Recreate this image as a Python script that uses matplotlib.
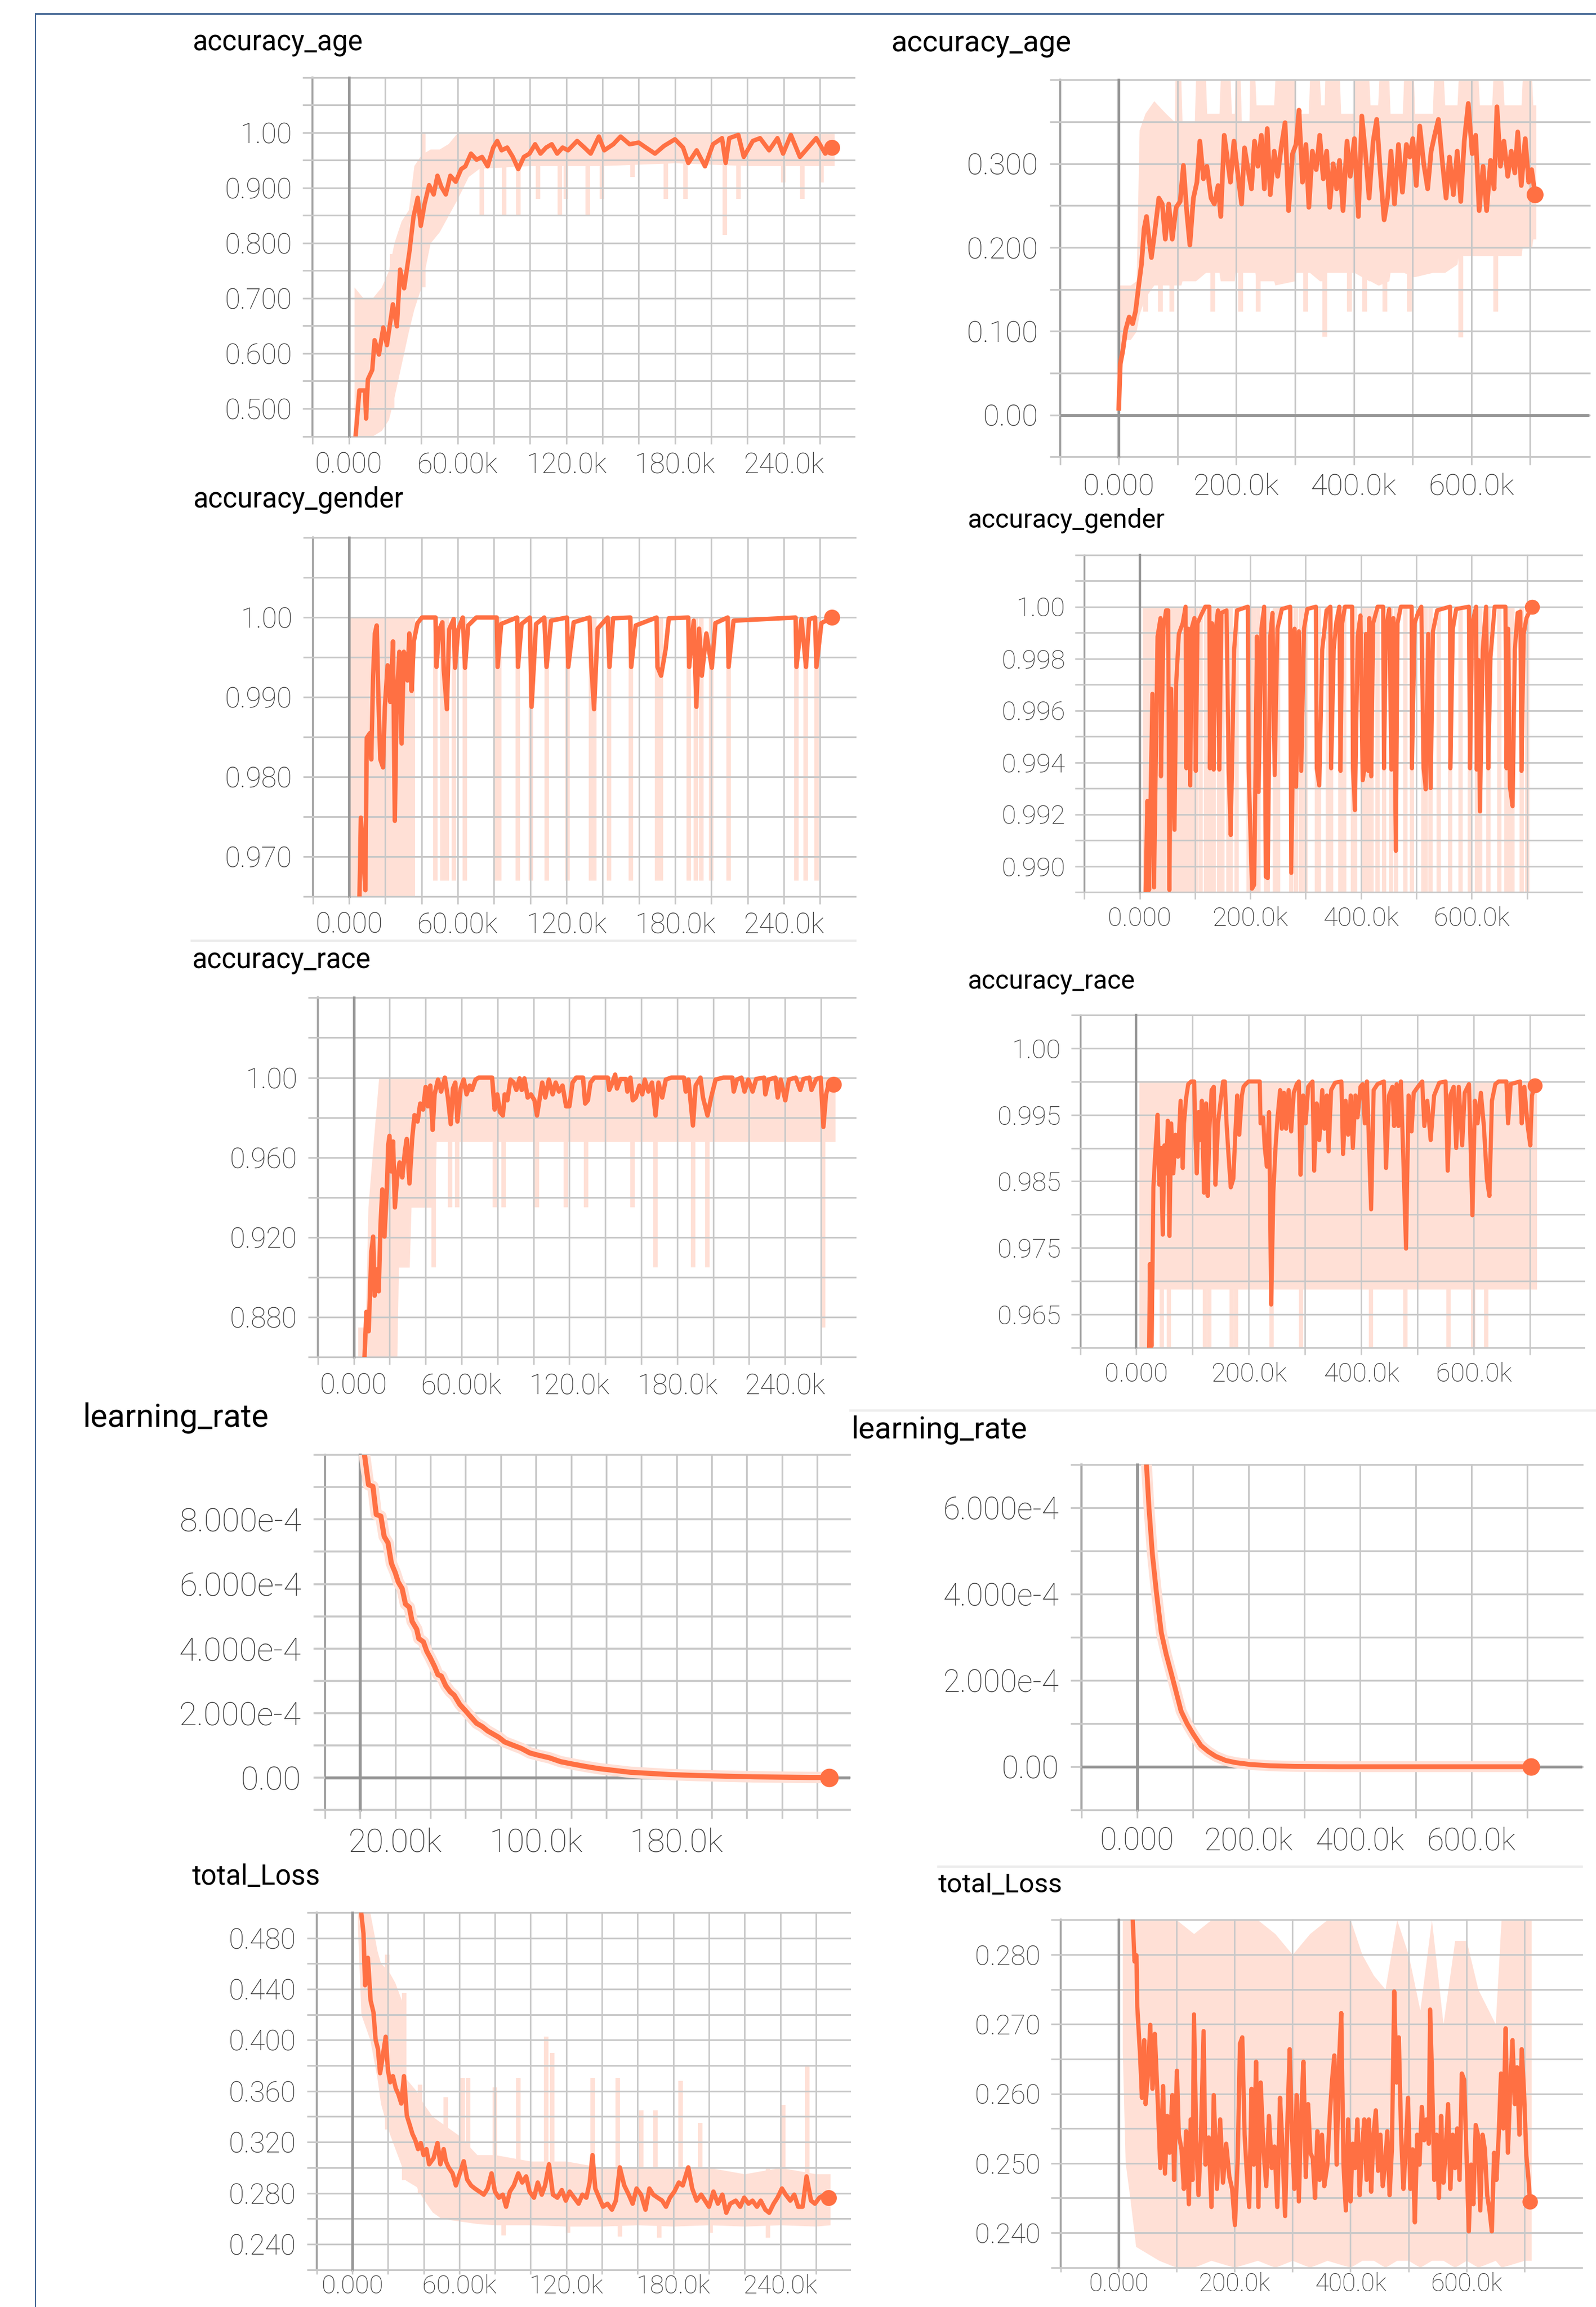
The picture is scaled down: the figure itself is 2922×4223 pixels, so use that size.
import matplotlib
matplotlib.use("Agg")
import matplotlib.pyplot as plt
from matplotlib.lines import Line2D

plt.rcParams['font.family'] = ['Roboto', 'DejaVu Sans']

W, H, DPI = 2922, 4223, 100

LINE_C = "#ff7043"
RAW_C = "#ffe0d6"
GRID_C = "#c8c8c8"
AXIS_C = "#a2a2a2"
ZERO_C = "#969696"
TICK_C = "#3a3a3a"
FRAME_C = "#3d6190"
SEP_C = "#ececec"

# ---------------- data (x in thousands of steps) ----------------
AGE_L = [(3.7,0.45),(5.8,0.533),(8.9,0.533),(9.5,0.482),(10.5,0.553),(12.9,0.57),(14.2,0.624),(16.6,0.598),(19,0.647),(21,0.615),(24.3,0.689),(26.5,0.649),(28.3,0.752),(30.5,0.718),(33.5,0.786),(35.7,0.848),(38,0.882),(39.7,0.831),(41.8,0.871),(44.3,0.905),(46.8,0.888),(48.9,0.922),(51,0.902),(53.5,0.888),(56,0.922),(59,0.911),(62,0.934),(64.3,0.939),(67.4,0.962),(70.5,0.951),(73.5,0.956),(76.6,0.939),(79.7,0.973),(81.9,0.985),(84.3,0.968),(87.4,0.973),(90.5,0.956),(93.5,0.934),(96.6,0.956),(99.7,0.962),(102.8,0.979),(105.8,0.962),(108.9,0.973),(112,0.979),(115,0.962),(118,0.973),(121,0.968),(126,0.985),(130,0.973),(133.5,0.962),(138,0.993),(141,0.968),(146,0.979),(150,0.993),(155,0.979),(160,0.982),(164,0.973),(169,0.962),(174,0.976),(180,0.988),(184.5,0.973),(187.4,0.945),(192,0.968),(196.6,0.939),(201,0.979),(206,0.99),(208,0.945),(210,0.99),(215,0.996),(218,0.956),(223,0.985),(227,0.99),(232,0.968),(236.6,0.99),(239.7,0.962),(244,0.996),(249,0.956),(253.5,0.973),(258,0.99),(263,0.962),(266.5,0.973)]
AGE_L_BAND = [(3,0.45,0.72),(8,0.45,0.70),(13,0.45,0.70),(18,0.46,0.72),(22,0.48,0.75),(25,0.52,0.80),(29,0.58,0.84),(33,0.64,0.86),(36,0.68,0.94),(40,0.72,0.96),(45,0.80,0.97),(50,0.82,0.97),(55,0.85,0.98),(60,0.88,1.0),(66,0.92,1.0),(72,0.935,1.0),(100,0.94,1.0),(140,0.94,1.0),(180,0.945,1.0),(220,0.94,1.0),(268,0.94,1.0)]
AGE_L_SPIKES = [(24,0.50,0.78),(41,0.72,1.0),(73.5,0.848,1.0),(85.8,0.848,1.0),(93.5,0.848,1.0),(104.3,0.88,1.0),(116.6,0.85,1.0),(119.7,0.88,1.0),(132,0.85,1.0),(139.7,0.88,1.0),(156.6,0.92,1.0),(175,0.88,1.0),(185.9,0.88,1.0),(207.4,0.815,1.0),(215,0.88,1.0),(239.7,0.91,1.0),(250.5,0.88,1.0),(261,0.91,1.0)]

AGE_R = [(0,0.008),(2.5,0.061),(6.7,0.076),(11.8,0.102),(17.7,0.117),(23.6,0.109),(28.6,0.124),(34.5,0.158),(38.8,0.181),(43,0.222),(47.2,0.237),(51.4,0.21),(55.6,0.188),(62.3,0.225),(68.2,0.259),(74,0.252),(79.2,0.21),(85,0.252),(91,0.21),(97.7,0.248),(104.5,0.255),(110,0.298),(116,0.24),(121,0.203),(127,0.259),(133,0.278),(138,0.327),(144,0.282),(150,0.297),(157,0.259),(162.6,0.252),(169,0.274),(173.6,0.237),(179.4,0.334),(184.5,0.308),(190,0.278),(196,0.327),(203,0.285),(209,0.252),(214,0.319),(220,0.293),(225.8,0.27),(231,0.327),(236.7,0.297),(242.6,0.334),(247.7,0.27),(252.7,0.342),(257.8,0.263),(264.5,0.315),(270.4,0.285),(276.3,0.319),(283,0.349),(289,0.244),(295.7,0.312),(301.6,0.323),(306.7,0.364),(312.6,0.278),(318.5,0.323),(323.5,0.248),(329.4,0.315),(336,0.293),(342,0.334),(348,0.282),(353.8,0.315),(359,0.248),(364.8,0.3),(370.7,0.27),(375.7,0.304),(381.6,0.244),(388.4,0.327),(394,0.285),(401,0.33),(407.8,0.237),(413.6,0.357),(419.5,0.315),(426,0.259),(433,0.327),(439,0.353),(444.8,0.293),(451.6,0.233),(457.5,0.259),(463.3,0.315),(469.2,0.252),(476,0.323),(482.7,0.266),(489.5,0.323),(495.4,0.308),(500.4,0.33),(506.3,0.274),(512.2,0.345),(519,0.3),(525.7,0.27),(531.6,0.315),(537.5,0.334),(544,0.353),(551,0.3),(557,0.259),(562.8,0.308),(569.5,0.263),(576,0.315),(582,0.255),(588,0.327),(594.8,0.372),(601.5,0.312),(607.4,0.334),(613.3,0.244),(620,0.297),(626,0.244),(632.7,0.304),(638.6,0.27),(643.6,0.368),(649.5,0.297),(655.4,0.327),(662,0.285),(668,0.315),(674,0.289),(679,0.338),(685,0.274),(691.7,0.33),(697.6,0.278),(702.6,0.293),(708.5,0.263)]
AGE_R_BAND = [(0,0.0,0.02),(2,0.02,0.155),(10,0.09,0.155),(20,0.09,0.155),(30,0.10,0.16),(35,0.12,0.34),(45,0.14,0.36),(60,0.155,0.375),(80,0.155,0.36),(95,0.155,0.35),(96,0.155,0.40),(106,0.155,0.40),(108,0.16,0.35),(129,0.16,0.35),(131,0.16,0.40),(148,0.17,0.40),(150,0.17,0.36),(171,0.17,0.36),(173,0.16,0.40),(190,0.16,0.40),(192,0.16,0.36),(197,0.16,0.36),(198,0.17,0.40),(207,0.17,0.40),(209,0.17,0.35),(222,0.17,0.35),(223,0.17,0.40),(232,0.17,0.40),(234,0.16,0.37),(264,0.16,0.37),(266,0.155,0.40),(300,0.16,0.40),(302,0.17,0.36),(323,0.17,0.36),(325,0.17,0.40),(342,0.16,0.40),(344,0.16,0.37),(350,0.16,0.37),(351,0.17,0.40),(376,0.17,0.40),(378,0.17,0.36),(399,0.17,0.36),(401,0.17,0.40),(426,0.16,0.40),(428,0.16,0.37),(441,0.155,0.37),(443,0.155,0.40),(460,0.16,0.40),(462,0.17,0.36),(483,0.17,0.36),(485,0.17,0.40),(502,0.165,0.40),(504,0.165,0.36),(534,0.17,0.36),(536,0.17,0.40),(553,0.17,0.40),(555,0.17,0.37),(576,0.18,0.37),(578,0.19,0.40),(612,0.19,0.40),(614,0.19,0.37),(635,0.19,0.37),(637,0.19,0.40),(654,0.19,0.40),(656,0.19,0.37),(685,0.19,0.37),(687,0.2,0.40),(703,0.2,0.40),(705,0.21,0.37),(710,0.21,0.37)]
AGE_R_SPIKES = [(45,0.124,0.3),(70,0.124,0.3),(90,0.124,0.3),(160,0.124,0.3),(207,0.124,0.3),(237,0.124,0.3),(318,0.124,0.3),(350,0.094,0.3),(392,0.124,0.3),(418,0.124,0.3),(452,0.124,0.3),(494,0.124,0.3),(582,0.093,0.3),(641,0.124,0.3)]

GENDER_L = [(5.75,0.9652),(6.5,0.9749),(9,0.9658),(9.75,0.9849),(11.5,0.9855),(12.25,0.9822),(13.25,0.9927),(14.25,0.998),(15.25,0.999),(16.25,0.9894),(17.25,0.9822),(18.75,0.9812),(19.75,0.9888),(21.25,0.994),(22.75,0.9894),(24.25,0.997),(25.25,0.9745),(26.25,0.9894),(27.75,0.9957),(29,0.9842),(30.25,0.9957),(32.25,0.9921),(33.25,0.998),(34.5,0.9908),(35.75,0.997),(37.75,0.9993),(40.25,1.0),(47.75,1.0),(48.25,0.9938),(49.75,0.9985),(51.5,0.9994),(52.25,0.9934),(54,0.9885),(55.25,0.9985),(57.75,0.9998),(58.5,0.9937),(60.25,0.9985),(62.75,1.0),(64,0.9937),(65.75,0.999),(70.25,1.0),(81.5,1.0),(82,0.9938),(84,0.9992),(92.75,1.0),(93.25,0.9938),(95.25,0.9992),(99.75,1.0),(100.75,0.9888),(103.25,0.9992),(107.75,1.0),(109,0.9938),(111.5,0.9996),(120.25,1.0),(121,0.9938),(124,0.9994),(132.75,1.0),(133.75,0.9938),(135.25,0.9885),(137.25,0.9986),(142.75,1.0),(143.75,0.9938),(145.75,0.9999),(155.25,1.0),(155.75,0.9938),(158.25,0.999),(169.75,1.0),(170.25,0.9938),(172.25,0.9927),(174.75,0.996),(176.5,0.9999),(187.25,1.0),(187.75,0.9938),(190.25,0.9996),(191.75,0.9888),(193.25,0.9986),(194.75,0.9927),(197.25,0.998),(200.25,0.9937),(202.25,0.9993),(209,1.0),(209.5,0.9938),(212.25,0.9996),(246.5,1.0),(247,0.9938),(249.75,0.9998),(252.25,0.9938),(254,0.9998),(257.25,1.0),(258,0.9938),(260.75,0.9993),(266.5,1.0)]
GENDER_L_BAND = [(0.5,0.96,1.0),(36.5,0.96,1.0)]
GENDER_L_SPIKE_X = [47.5,51.5,54,58,64,81,83,93,100.5,109,120.5,133.5,135.5,143.5,155.5,170,172,187.5,191.5,194.5,200,209.5,247,252,258]
GENDER_L_SPIKE_LOW = 0.967

GENDER_R = [(10.8,0.98903),(13.8,0.99251),(16.9,0.98908),(23,0.99664),(26,0.98918),(32.3,0.99885),(37.7,0.99956),(38.5,0.99346),(43,0.99915),(47.7,0.99986),(51.5,0.99986),(53.8,0.98908),(56.9,0.99684),(63,0.9914),(66,0.99704),(70.8,0.99895),(77.7,0.99936),(83,1.0),(84.5,0.99377),(87.7,0.99915),(91.5,0.99311),(93.8,0.99915),(99,0.99956),(101.5,0.99367),(104.6,0.99936),(110.8,0.99966),(118.5,1.0),(126,1.0),(127,0.99377),(130.8,0.99936),(133.8,0.99372),(137.7,0.99915),(141.5,0.99986),(144,0.99372),(147.7,0.99976),(157,0.99986),(160.8,0.99367),(164.6,0.9912),(170.8,0.99835),(176,0.99986),(195.4,1.0),(197,0.99377),(203,0.98913),(207,0.98928),(212,0.99885),(215,0.99286),(220,0.99915),(225,1.0),(228,0.98959),(231.5,0.98954),(236,0.99885),(240,0.99976),(244,0.99351),(249,0.99915),(257,0.99991),(272,1.0),(274,0.98974),(280,0.99915),(283,0.99306),(287.7,0.99905),(292,0.99367),(297,0.99915),(303,0.99991),(318.5,1.0),(320,0.99377),(324.6,0.99311),(330,0.99835),(337.7,0.99986),(344.6,1.0),(346,0.99377),(350.8,0.99835),(355,0.99936),(360.8,1.0),(363,0.99367),(366,0.99936),(371,1.0),(384,1.0),(385.4,0.99377),(389,0.99216),(394,0.99885),(399,0.99966),(403,0.99331),(406,0.99372),(409,0.99895),(413,0.99367),(415,0.99956),(418.5,0.99346),(422,0.99936),(430,1.0),(440,1.0),(441.5,0.99377),(445,0.99915),(451,0.99991),(455,0.99372),(458.5,0.99956),(463,0.99059),(466,0.99936),(472,1.0),(491.5,1.0),(492,0.99377),(497,0.99936),(503,0.99976),(509,1.0),(513,0.99377),(517,0.99296),(521.5,0.99895),(526,0.99301),(530,0.99905),(537.7,0.99986),(561,1.0),(561.5,0.99377),(566,0.99915),(572,0.99991),(595,1.0),(597,0.99377),(601,0.99936),(608,1.0),(609,0.99372),(612,0.99795),(615,0.99211),(620,0.99835),(626,1.0),(630,0.99377),(634,0.99805),(641.5,1.0),(661,1.0),(663,0.99377),(666,0.99915),(669,0.99306),(674,0.99231),(678,0.99835),(683,0.99976),(688,0.99981),(690,0.99367),(694,0.99895),(699,0.99956),(709,1.0)]
GENDER_R_BAND = [(5,0.985,1.0),(100,0.985,1.0)]
GENDER_R_SPIKE_X = [101.5,110,120,127,133.8,144,150,160.8,164.6,175,197,203,207,215,228,231.5,244,250,274,283,292,300,320,324.6,340,346,363,370,385,389,403,406,413,418.5,430,441.5,455,463,480,492,513,517,526,540,561.5,580,597,609,615,630,650,663,669,674,690,700]
GENDER_R_SPIKE_LOW = 0.985

RACE_L = [(6,0.8604),(7,0.8827),(8.3,0.873),(9.8,0.913),(10.8,0.9204),(11.6,0.8908),(12.9,0.904),(13.9,0.893),(14.9,0.9264),(15.9,0.944),(17.1,0.9204),(18.4,0.944),(19.2,0.9664),(19.9,0.9708),(20.9,0.953),(21.9,0.968),(22.9,0.935),(24,0.9486),(25.5,0.9575),(27,0.95),(28.5,0.9634),(29.5,0.9693),(31,0.947),(32.5,0.9693),(33.8,0.9812),(35.5,0.978),(37,0.987),(38.6,0.984),(40,0.9953),(41.3,0.9856),(42.6,0.996),(43.9,0.9738),(45,0.9916),(46.9,0.999),(48.6,0.993),(50.7,1.0),(52.4,0.99),(54,0.9767),(55.2,0.9945),(56.5,0.9975),(57.7,0.978),(59.5,0.9945),(61.2,0.999),(62.8,0.9916),(64.5,0.996),(65.8,0.9938),(67.8,0.999),(69.6,1.0),(77,1.0),(78.4,0.984),(79.9,0.9916),(81.4,0.9827),(83,0.981),(84,0.9916),(85.5,0.9886),(87.2,0.999),(89,0.9975),(90.5,0.9938),(92.3,0.9996),(93.5,0.9938),(95,0.9996),(96.8,0.99),(98.6,0.9916),(100.6,0.9886),(102,0.981),(103.6,0.99),(104.9,0.9975),(106.6,0.99),(108.6,0.999),(110.7,0.9916),(112.4,0.9975),(114.2,0.993),(116.2,0.996),(118.2,0.9856),(120,0.9856),(121.8,0.9975),(123.8,1.0),(127.6,1.0),(128.8,0.987),(130.3,0.9886),(131.8,0.9975),(133.9,1.0),(141.4,1.0),(142.2,0.9938),(144,0.9975),(145.5,1.0015),(146.5,0.9945),(148.5,0.9993),(151.5,0.9993),(152.3,0.993),(154,1.0),(155.3,0.9886),(157,0.99),(159,0.996),(160.6,0.9916),(162,0.999),(164,0.993),(166,0.9975),(168,0.981),(169.6,0.9975),(171.7,0.99),(173.7,0.999),(176.7,1.0),(183.8,1.0),(184.8,0.993),(186.3,0.999),(188.8,0.976),(190.3,0.996),(193,1.0),(194.4,0.99),(196.9,0.981),(198.9,0.99),(201.4,0.999),(205.7,1.0),(210.7,1.0),(211.5,0.993),(213.3,0.999),(215.8,1.0),(217.5,0.993),(219.6,0.999),(222,0.993),(224,0.9993),(228.4,1.0),(229.1,0.9916),(230.9,0.999),(234.7,1.0),(236,0.99),(237.7,0.999),(240.2,0.9886),(242.2,0.999),(246,1.0),(248.5,0.9938),(250.3,0.9993),(253.6,1.0),(254.8,0.9938),(257.4,0.9993),(259.9,1.0),(261.4,0.9753),(262.9,0.9916),(264.5,0.997),(267,0.9967)]
RACE_L_BAND = [(2.3,0.855,0.875),(6.5,0.855,0.875),(8,0.855,0.935),(11,0.855,0.968),(14,0.855,1.0),(24,0.855,1.0),(25,0.905,1.0),(31,0.905,1.0),(32,0.935,1.0),(45,0.935,1.0),(46,0.968,1.0),(268,0.968,1.0)]
RACE_L_SPIKES = [(22.9,0.855,1.0),(44.4,0.905,1.0),(53.7,0.935,1.0),(57.7,0.935,1.0),(78.4,0.935,1.0),(83.4,0.935,1.0),(101.8,0.935,1.0),(118,0.935,1.0),(129.3,0.935,1.0),(155.3,0.935,1.0),(168,0.905,1.0),(188.8,0.905,1.0),(196.9,0.905,1.0),(261.4,0.875,1.0)]

RACE_R = [(22.7,0.9603),(24.2,0.9726),(27.2,0.9603),(30.3,0.9841),(33.3,0.9887),(37.8,0.995),(40.8,0.9845),(43.9,0.99),(46.9,0.977),(49.9,0.9904),(52.9,0.9862),(55.9,0.9941),(59,0.9768),(62,0.9937),(65.8,0.9862),(69.6,0.992),(74.1,0.9887),(78.7,0.9971),(82.5,0.987),(84.7,0.9937),(88.5,0.9975),(92.3,0.9996),(97.6,1.0),(102.9,1.0),(104.4,0.9937),(107.4,0.9862),(110.4,0.9954),(113.5,0.9912),(116.5,0.9971),(120.3,0.9833),(124,0.9967),(127,0.9828),(130,0.9929),(133.9,0.9987),(137.7,0.9992),(140.7,0.9845),(145.2,0.9937),(149.8,0.9971),(154.3,1.0),(157.3,1.0),(160.4,0.9937),(164.1,0.9887),(167.9,0.9841),(172.5,0.9854),(175.5,0.9912),(179.3,0.9979),(183,0.992),(187.6,0.9979),(190.6,0.9992),(194.4,0.9996),(199.7,1.0),(219.4,1.0),(220.9,0.9937),(225.4,0.9946),(228.4,0.99),(232.2,0.9872),(236,0.9954),(239.8,0.9665),(243.6,0.9833),(247.4,0.99),(251.1,0.9946),(255.7,0.9987),(258.7,0.9929),(262.5,0.9983),(266.3,0.9929),(270.8,0.9987),(275.3,0.9925),(279.9,0.9983),(285.2,0.9996),(289,1.0),(292,0.986),(296.5,0.9979),(301,0.9937),(305.6,0.9992),(313.2,1.0),(316.2,0.9866),(320.7,0.9967),(325.3,0.9912),(330.6,0.9987),(334.3,0.9929),(338.9,0.9979),(341.9,0.9895),(346.4,0.9987),(353.3,0.9998),(364.6,1.0),(367.6,0.9891),(372.2,0.9971),(376.7,0.992),(381.2,0.9979),(385,0.99),(389.6,0.9979),(393.3,0.9946),(398.6,0.9992),(402.4,0.9996),(406.2,0.9937),(410,1.0),(417.5,0.9808),(422,0.9987),(428.9,0.9996),(440.2,1.0),(444,0.987),(449.3,0.9979),(455.4,0.9992),(458.4,0.9933),(462.9,0.9996),(466,0.9933),(470.5,1.0),(479.6,0.9749),(484.1,0.9979),(489.4,0.9925),(493.2,0.9983),(500.8,0.9992),(508.3,1.0),(512.1,0.9933),(517.4,0.9971),(523.4,0.9912),(529.5,0.9979),(538.6,0.9998),(549.9,1.0),(553.7,0.9866),(558.2,0.9979),(564.3,0.9992),(568.8,0.99),(573.4,0.9992),(579.4,0.9904),(583.9,0.9983),(591.5,0.9996),(597.6,0.9799),(602.1,0.9971),(606.7,0.9937),(612.7,0.9983),(618,0.9933),(623.3,0.9854),(627.8,0.9828),(632.3,0.9971),(638.4,0.9996),(644.4,1.0),(658,1.0),(661,0.9937),(665.7,0.9996),(682.3,1.0),(685.3,0.9937),(689.9,0.9992),(695.9,0.9933),(700.5,0.9904),(703.5,0.9979),(708.8,0.9994)]
RACE_R_BAND = [(5,0.955,1.0),(30,0.955,1.0),(31,0.9688,1.0),(712,0.9688,1.0)]
RACE_R_SPIKE_X = [45,58,122,130,170,177,240,293,417,478,555,599,622]
RACE_R_SPIKE_LOW = 0.955

LR_L = [(2.5,1.0e-3),(4.8,9.07e-4),(7.3,9.02e-4),(9.2,8.15e-4),(11.8,8.1e-4),(13.7,7.47e-4),(15.9,7.27e-4),(17.8,6.64e-4),(20,6.35e-4),(21.7,6.06e-4),(23.9,5.86e-4),(25.8,5.38e-4),(28,5.28e-4),(29.6,4.84e-4),(32.2,4.6e-4),(33.4,4.31e-4),(36,4.21e-4),(37.9,3.92e-4),(39.8,3.73e-4),(42.4,3.44e-4),(44.3,3.19e-4),(46.2,3.15e-4),(48.7,2.85e-4),(51.3,2.66e-4),(53.5,2.56e-4),(56.7,2.27e-4),(59.9,2.08e-4),(63.1,1.88e-4),(66.2,1.69e-4),(69.4,1.59e-4),(72.6,1.45e-4),(75.8,1.35e-4),(79,1.25e-4),(82.2,1.11e-4),(86.9,1.01e-4),(91.7,9.1e-5),(96.5,7.7e-5),(101.3,7.0e-5),(107.6,6.2e-5),(114,5.0e-5),(120.4,4.3e-5),(128.3,3.5e-5),(136.3,2.8e-5),(144.3,2.3e-5),(153.8,1.7e-5),(163.4,1.4e-5),(176,1.0e-5),(192,7e-6),(208,5e-6),(224,3e-6),(239.8,2e-6),(255.7,1e-6),(266.9,1e-6)]
LR_R = [(16.9,7.0e-4),(21.3,6.02e-4),(27.5,4.93e-4),(34.6,4.06e-4),(43.5,3.11e-4),(52.4,2.6e-4),(61.3,2.17e-4),(70.2,1.73e-4),(79,1.29e-4),(89.7,1.0e-4),(101.2,7.5e-5),(114.6,4.9e-5),(127.9,3.5e-5),(141.2,2.4e-5),(159,1.45e-5),(176.7,9.5e-6),(203.4,5.1e-6),(239,2.2e-6),(283,7e-7),(363,0.0),(707,0.0)]

LOSS_L = [(5,0.50),(6.3,0.4836),(7.2,0.443),(8.75,0.4645),(10.3,0.431),(11.9,0.4217),(13.1,0.4002),(14.4,0.3931),(15.6,0.374),(17.2,0.3883),(18.75,0.4026),(20,0.3764),(21.25,0.3669),(22.8,0.3717),(24.4,0.3621),(25.9,0.3574),(27.5,0.3502),(29,0.3717),(30.6,0.3407),(32.2,0.3336),(33.75,0.3264),(35.3,0.3217),(36.9,0.3145),(38.4,0.3193),(40,0.3098),(41.6,0.3145),(43.1,0.3026),(45.6,0.3074),(47.8,0.3193),(49.4,0.3026),(51.25,0.3145),(52.5,0.305),(54,0.3002),(56.25,0.2955),(58.1,0.286),(60.3,0.2955),(62.5,0.305),(64.4,0.2907),(66.6,0.286),(68.75,0.2836),(71.25,0.2812),(73.75,0.2788),(75.9,0.2836),(78.1,0.2955),(80,0.2812),(82.2,0.2764),(84.4,0.2788),(86.25,0.2693),(88.4,0.2812),(90.6,0.286),(93.1,0.2955),(95.3,0.2883),(97.5,0.2931),(99.4,0.2812),(101.9,0.2764),(104,0.2883),(106.25,0.2788),(108.1,0.286),(110.3,0.3026),(112.5,0.2788),(115,0.2764),(117.5,0.2824),(119.7,0.2741),(121.9,0.2812),(124.4,0.2764),(126.9,0.2717),(129,0.2788),(131.25,0.2764),(133.1,0.2883),(134.7,0.3098),(136.25,0.2836),(138.4,0.2764),(140.6,0.2693),(143.1,0.2717),(145.6,0.267),(147.8,0.2741),(150,0.3002),(152.5,0.286),(155,0.2788),(157.2,0.2717),(159.4,0.2836),(161.9,0.2788),(164.4,0.267),(166.6,0.2836),(168.75,0.2788),(171.25,0.2764),(173.75,0.2741),(175.9,0.2693),(178.1,0.2764),(180.6,0.2812),(183.1,0.2883),(185.3,0.286),(188.4,0.3002),(190.6,0.2836),(193.1,0.2741),(195.6,0.2788),(197.8,0.2741),(200,0.2693),(202.5,0.2812),(205,0.2717),(207.5,0.2788),(209.7,0.2646),(211.9,0.2717),(215,0.2741),(217.5,0.2693),(219.7,0.2764),(222.2,0.2717),(224.4,0.2741),(226.9,0.2693),(229,0.2741),(231.6,0.267),(233.75,0.2646),(236.25,0.2717),(238.4,0.2764),(240.9,0.2836),(243,0.2788),(245.6,0.2741),(247.8,0.2788),(250,0.2693),(252.5,0.2693),(254.7,0.2931),(257.2,0.2741),(259.4,0.2717),(261.9,0.2764),(265,0.2788),(267.2,0.2764)]
LOSS_L_BAND = [(3,0.49,0.50),(5,0.42,0.50),(10,0.40,0.50),(14,0.37,0.47),(16,0.35,0.46),(20,0.33,0.455),(24,0.315,0.445),(28,0.30,0.43),(30,0.29,0.37),(36,0.285,0.36),(40,0.275,0.35),(45,0.265,0.34),(50,0.26,0.335),(60,0.258,0.325),(70,0.256,0.31),(80,0.255,0.31),(100,0.255,0.305),(120,0.254,0.305),(140,0.254,0.30),(160,0.255,0.30),(180,0.254,0.30),(200,0.255,0.30),(220,0.254,0.295),(240,0.255,0.30),(260,0.254,0.295),(268,0.255,0.295)]
LOSS_L_SPIKES = [(19.7,0.33,0.467),(29,0.29,0.437),(38,0.28,0.365),(52.5,0.26,0.355),(62,0.258,0.37),(65,0.258,0.37),(80,0.255,0.363),(93,0.255,0.37),(108.75,0.255,0.4026),(112,0.255,0.39),(134.7,0.254,0.37),(149,0.254,0.37),(162,0.255,0.345),(170,0.255,0.345),(184,0.254,0.368),(195,0.255,0.335),(241.6,0.255,0.349),(255,0.254,0.38),(85,0.247,0.30),(121,0.249,0.30),(150,0.246,0.30),(172,0.245,0.30),(201,0.249,0.30),(233,0.245,0.30)]

LOSS_R = [(24.6,0.285),(27.8,0.279),(31,0.2799),(32.5,0.2725),(37.3,0.2655),(40.5,0.2594),(44.4,0.2677),(46.8,0.2585),(50.8,0.2629),(54.8,0.2699),(58.7,0.2607),(62.7,0.2686),(67.5,0.2594),(72.2,0.2493),(77,0.2611),(80.2,0.2485),(84.1,0.2568),(88,0.2515),(92.9,0.2598),(96,0.2476),(100.8,0.2633),(104,0.2541),(108.7,0.252),(112.7,0.2463),(116.7,0.2546),(121.4,0.2441),(124.6,0.2563),(127.8,0.2476),(130.2,0.2714),(134.1,0.2533),(138,0.2454),(142,0.2533),(146.8,0.269),(150,0.2498),(155.6,0.2537),(160.3,0.2437),(164.3,0.2598),(169.8,0.2463),(175.4,0.2563),(180.2,0.2472),(185.7,0.2528),(191.3,0.248),(196,0.2463),(200.8,0.2411),(205.6,0.2507),(209.5,0.2672),(213.5,0.2681),(217.5,0.2541),(221.4,0.2485),(225.4,0.2437),(229.4,0.2607),(233.3,0.2498),(237.3,0.2646),(241.3,0.2437),(245.2,0.2616),(250,0.252),(254.8,0.2467),(259.5,0.2568),(264.3,0.2493),(269,0.2524),(273.8,0.2437),(278.6,0.2594),(282.5,0.2528),(287.3,0.2424),(291.3,0.2559),(295.2,0.2664),(299.2,0.2541),(303.2,0.2463),(307.1,0.2598),(311,0.2445),(315,0.2572),(319,0.2646),(323,0.248),(327,0.2585),(331,0.2515),(335,0.2507),(338.9,0.245),(342.9,0.2546),(346.8,0.2476),(350.8,0.2541),(354.8,0.2467),(360.3,0.2498),(364.3,0.2568),(368.3,0.262),(372.2,0.2655),(376.2,0.2498),(380.2,0.2646),(384.1,0.2716),(388,0.2498),(392,0.2432),(396,0.2563),(400,0.2445),(404,0.2528),(408,0.2493),(412,0.2563),(415.9,0.2454),(419.8,0.252),(423.8,0.2563),(427.8,0.2476),(431.7,0.2563),(435.7,0.2459),(439.7,0.2541),(443.7,0.2576),(447.6,0.2489),(451.6,0.2541),(455.6,0.2467),(459.5,0.2498),(463.5,0.2546),(467.5,0.2454),(471.4,0.252),(475.4,0.2747),(479.4,0.2616),(483.3,0.2681),(487.3,0.2541),(491.3,0.2463),(495.2,0.252),(499.2,0.2594),(503.2,0.2463),(507.1,0.252),(511,0.2415),(515,0.2541),(519,0.2498),(523,0.2581),(527,0.2533),(531,0.2563),(535,0.2528),(537.3,0.2721),(540.5,0.2629),(544.4,0.2476),(548.4,0.2541),(552.4,0.245),(556.3,0.2568),(560.3,0.2472),(564.3,0.252),(568.3,0.2585),(572.2,0.2463),(576.2,0.2541),(580.2,0.2493),(584.1,0.255),(588.1,0.2476),(592,0.2629),(596,0.262),(600,0.2515),(604,0.2402),(608,0.2498),(611.9,0.2441),(615.9,0.2555),(619.8,0.2541),(623.8,0.2432),(627.8,0.2541),(631.7,0.252),(635.7,0.2454),(639.7,0.2432),(643.7,0.2402),(647.6,0.2515),(651.6,0.2476),(655.6,0.2541),(659.5,0.2629),(663.5,0.255),(667.5,0.2694),(671.4,0.2515),(675.4,0.2607),(679.4,0.2677),(683.3,0.2585),(687.3,0.2638),(691.3,0.2541),(695.2,0.2664),(699.2,0.2603),(703.2,0.2511),(707,0.2476),(709.5,0.2445)]
LOSS_R_BAND = [(7,0.266,0.285),(12,0.25,0.285),(20,0.245,0.285),(30,0.238,0.285),(50,0.237,0.285),(70,0.236,0.285),(100,0.235,0.285),(130,0.235,0.283),(160,0.236,0.285),(200,0.235,0.285),(240,0.236,0.285),(270,0.235,0.283),(300,0.236,0.28),(330,0.235,0.283),(360,0.236,0.285),(400,0.235,0.285),(420,0.236,0.28),(440,0.236,0.277),(460,0.235,0.275),(480,0.236,0.285),(500,0.236,0.28),(520,0.235,0.272),(540,0.236,0.285),(560,0.236,0.27),(580,0.235,0.282),(600,0.236,0.282),(620,0.235,0.275),(650,0.236,0.27),(660,0.235,0.285),(700,0.236,0.285),(712,0.236,0.285)]

# ---------------- tick labels ----------------
X_LAB_L = {0: "0.000", 60: "60.00k", 120: "120.0k", 180: "180.0k", 240: "240.0k"}
X_LAB_LR_L = {20: "20.00k", 100: "100.0k", 180: "180.0k"}
X_LAB_R = {0: "0.000", 200: "200.0k", 400: "400.0k", 600: "600.0k"}
Y_LAB_AGE_L = {0.5: "0.500", 0.6: "0.600", 0.7: "0.700", 0.8: "0.800", 0.9: "0.900", 1.0: "1.00"}
Y_LAB_AGE_R = {0.0: "0.00", 0.1: "0.100", 0.2: "0.200", 0.3: "0.300"}
Y_LAB_GEN_L = {0.97: "0.970", 0.98: "0.980", 0.99: "0.990", 1.0: "1.00"}
Y_LAB_GEN_R = {0.99: "0.990", 0.992: "0.992", 0.994: "0.994", 0.996: "0.996", 0.998: "0.998", 1.0: "1.00"}
Y_LAB_RACE_L = {0.88: "0.880", 0.92: "0.920", 0.96: "0.960", 1.0: "1.00"}
Y_LAB_RACE_R = {0.965: "0.965", 0.975: "0.975", 0.985: "0.985", 0.995: "0.995", 1.005: "1.00"}
Y_LAB_LR_L = {0.0: "0.00", 2e-4: "2.000e-4", 4e-4: "4.000e-4", 6e-4: "6.000e-4", 8e-4: "8.000e-4"}
Y_LAB_LR_R = {0.0: "0.00", 2e-4: "2.000e-4", 4e-4: "4.000e-4", 6e-4: "6.000e-4"}
Y_LAB_LOSS_L = {0.24: "0.240", 0.28: "0.280", 0.32: "0.320", 0.36: "0.360", 0.40: "0.400", 0.44: "0.440", 0.48: "0.480"}
Y_LAB_LOSS_R = {0.24: "0.240", 0.25: "0.250", 0.26: "0.260", 0.27: "0.270", 0.28: "0.280"}

fig = plt.figure(figsize=(W / DPI, H / DPI), dpi=DPI)
fig.patch.set_facecolor("white")

PANELS = [
    dict(title="accuracy_age", tpos=(352, 92), s=1.0, box=(572.4, 1564, 141.8, 798.5),
         xlim=(-20, 279), ylim=(0.45, 1.10), xg=(-20, 260, 20), yg=(0.45, 1.10, 0.05),
         xlab=X_LAB_L, ylab=Y_LAB_AGE_L, smooth=AGE_L, band=AGE_L_BAND, spikes=AGE_L_SPIKES),
    dict(title="accuracy_gender", tpos=(353, 928), s=1.0, box=(572.8, 1566, 984.4, 1641.2),
         xlim=(-20, 279.5), ylim=(0.965, 1.010), xg=(-20, 260, 20), yg=(0.965, 1.010, 0.005),
         xlab=X_LAB_L, ylab=Y_LAB_GEN_L, smooth=GENDER_L, band=GENDER_L_BAND,
         spikes=[(x, GENDER_L_SPIKE_LOW, 1.0) for x in GENDER_L_SPIKE_X]),
    dict(title="accuracy_race", tpos=(351.4, 1773), s=1.0, box=(581.9, 1566, 1826.3, 2484.4),
         xlim=(-20, 279.2), ylim=(0.86, 1.04), xg=(-20, 260, 20), yg=(0.86, 1.04, 0.02),
         xlab=X_LAB_L, ylab=Y_LAB_RACE_L, smooth=RACE_L, band=RACE_L_BAND, spikes=RACE_L_SPIKES),
    dict(title="learning_rate", tpos=(151, 2612), s=1.16, box=(594.9, 1556, 2663, 3313.4),
         xlim=(-20, 278.6), ylim=(-1e-4, 1e-3), xg=(-20, 260, 20), yg=(-1e-4, 1e-3, 1e-4),
         xlab=X_LAB_LR_L, ylab=Y_LAB_LR_L, smooth=LR_L, band=None, spikes=[], halo=True),
    dict(title="total_Loss", tpos=(352, 3450), s=1.0, box=(579.6, 1556, 3500.9, 4154.6),
         xlim=(-20, 279), ylim=(0.22, 0.50), xg=(-20, 260, 20), yg=(0.22, 0.50, 0.02),
         xlab=X_LAB_L, ylab=Y_LAB_LOSS_L, smooth=LOSS_L, band=LOSS_L_BAND, spikes=LOSS_L_SPIKES,
         bottom_row=True),
    dict(title="accuracy_age", tpos=(1631.5, 95), s=1.06, box=(1940.7, 2910, 146.4, 836.4),
         xlim=(-100, 801), ylim=(-0.05, 0.40), xg=(-100, 700, 100), yg=(-0.05, 0.40, 0.05),
         xlab=X_LAB_R, ylab=Y_LAB_AGE_R, smooth=AGE_R, band=AGE_R_BAND, spikes=AGE_R_SPIKES),
    dict(title="accuracy_gender", tpos=(1771.7, 965), s=0.94, box=(1985.2, 2896, 1015.5, 1633),
         xlim=(-100, 799), ylim=(0.989, 1.002), xg=(-100, 700, 100), yg=(0.989, 1.002, 0.001),
         xlab=X_LAB_R, ylab=Y_LAB_GEN_R, smooth=GENDER_R, band=GENDER_R_BAND,
         spikes=[(x, GENDER_R_SPIKE_LOW, 1.0) for x in GENDER_R_SPIKE_X]),
    dict(title="accuracy_race", tpos=(1771.7, 1810), s=0.94, box=(1977.5, 2900, 1857.7, 2467.3),
         xlim=(-100, 796), ylim=(0.96, 1.01), xg=(-100, 700, 100), yg=(0.96, 1.01, 0.005),
         xlab=X_LAB_R, ylab=Y_LAB_RACE_R, smooth=RACE_R, band=RACE_R_BAND,
         spikes=[(x, RACE_R_SPIKE_LOW, 1.0) for x in RACE_R_SPIKE_X]),
    dict(title="learning_rate", tpos=(1559, 2633), s=1.10, box=(1979.7, 2896.6, 2681.4, 3312.9),
         xlim=(-100, 798.5), ylim=(-1e-4, 7e-4), xg=(-100, 700, 100), yg=(-1e-4, 7e-4, 1e-4),
         xlab=X_LAB_R, ylab=Y_LAB_LR_R, smooth=LR_R, band=None, spikes=[], halo=True),
    dict(title="total_Loss", tpos=(1718, 3464), s=0.97, box=(1941.5, 2896, 3514.3, 4150.7),
         xlim=(-100, 798.8), ylim=(0.235, 0.285), xg=(-100, 700, 100), yg=(0.235, 0.285, 0.005),
         xlab=X_LAB_R, ylab=Y_LAB_LOSS_R, smooth=LOSS_R, band=LOSS_R_BAND, spikes=[],
         bottom_row=True),
]


def draw(p):
    l, r, t, b = p["box"]
    s = p["s"]
    ax = fig.add_axes([l / W, 1 - b / H, (r - l) / W, (b - t) / H])
    ax.set_xlim(*p["xlim"])
    ax.set_ylim(*p["ylim"])
    ax.patch.set_alpha(0)
    for sp in ax.spines.values():
        sp.set_visible(False)

    x0, x1, dx = p["xg"]
    xs = [x0 + i * dx for i in range(int(round((x1 - x0) / dx)) + 1)]
    y0, y1, dy = p["yg"]
    ys = [round(y0 + i * dy, 7) for i in range(int(round((y1 - y0) / dy)) + 1)]

    for v in xs:
        ax.axvline(v, color=AXIS_C if v == x0 else GRID_C, lw=(2.6 if v == x0 else 2.0) * s,
                   zorder=1, clip_on=False)
    for v in ys:
        ax.axhline(v, color=GRID_C, lw=2.2 * s, zorder=1, clip_on=False)
    ax.axvline(0, color=ZERO_C, lw=3.4 * s, zorder=1.2, clip_on=False)
    if p["ylim"][0] < 0 < p["ylim"][1]:
        ax.axhline(0, color=ZERO_C, lw=3.4 * s, zorder=1.2)

    ax.set_xticks(xs)
    ax.set_xticklabels([p["xlab"].get(v, "") for v in xs])
    ylab = {round(k, 7): v for k, v in p["ylab"].items()}
    ax.set_yticks(ys)
    ax.set_yticklabels([ylab.get(v, "") for v in ys])
    if p.get("bottom_row"):
        # the last row sits on the figure's lower edge: keep its labels inside
        xlen, xpad, xsize = 6 * s, 0.0, 34 * s
    else:
        xlen, xpad, xsize = 10 * s, 10 * s, 37 * s
    ax.tick_params(axis="x", length=xlen, width=2.0 * s, color=GRID_C, pad=xpad,
                   labelsize=xsize, labelcolor=TICK_C)
    ax.tick_params(axis="y", length=13 * s, width=2.2 * s, color=GRID_C, pad=14 * s,
                   labelsize=37 * s, labelcolor=TICK_C)
    for lab in ax.get_xticklabels() + ax.get_yticklabels():
        lab.set_fontweight("light")

    if p["band"]:
        bx = [q[0] for q in p["band"]]
        blo = [q[1] for q in p["band"]]
        bhi = [q[2] for q in p["band"]]
        ax.fill_between(bx, blo, bhi, color=RAW_C, lw=0, zorder=0.5)
    if p["spikes"]:
        ax.vlines([q[0] for q in p["spikes"]], [q[1] for q in p["spikes"]],
                  [q[2] for q in p["spikes"]], color=RAW_C, lw=6 * s, zorder=0.5)

    sx = [q[0] for q in p["smooth"]]
    sy = [q[1] for q in p["smooth"]]
    if p.get("halo"):
        ax.plot(sx, sy, color=RAW_C, lw=13 * s, zorder=2, solid_capstyle="round")
    ax.plot(sx, sy, color=LINE_C, lw=5.8 * s, zorder=3, solid_joinstyle="round")
    ax.plot([sx[-1]], [sy[-1]], "o", ms=21 * s, color=LINE_C, mec="none", zorder=4, clip_on=False)

    tx, ty = p["tpos"]
    fig.text(tx / W, 1 - ty / H, p["title"], fontsize=36.7 * s, color="black",
             ha="left", va="baseline")


for p in PANELS:
    draw(p)

# frame and separators
fig.add_artist(Line2D([65 / W, 1.0], [1 - 25 / H, 1 - 25 / H], color=FRAME_C, lw=2.2))
fig.add_artist(Line2D([65 / W, 65 / W], [0.0, 1 - 25 / H], color=FRAME_C, lw=1.4))
for (xa, xb, yy) in [(351, 1566, 1722), (1557, 2922, 2582), (1718, 2896, 3417)]:
    fig.add_artist(Line2D([xa / W, xb / W], [1 - yy / H, 1 - yy / H], color=SEP_C, lw=3.0))

fig.savefig("out.png", dpi=DPI, facecolor="white")
